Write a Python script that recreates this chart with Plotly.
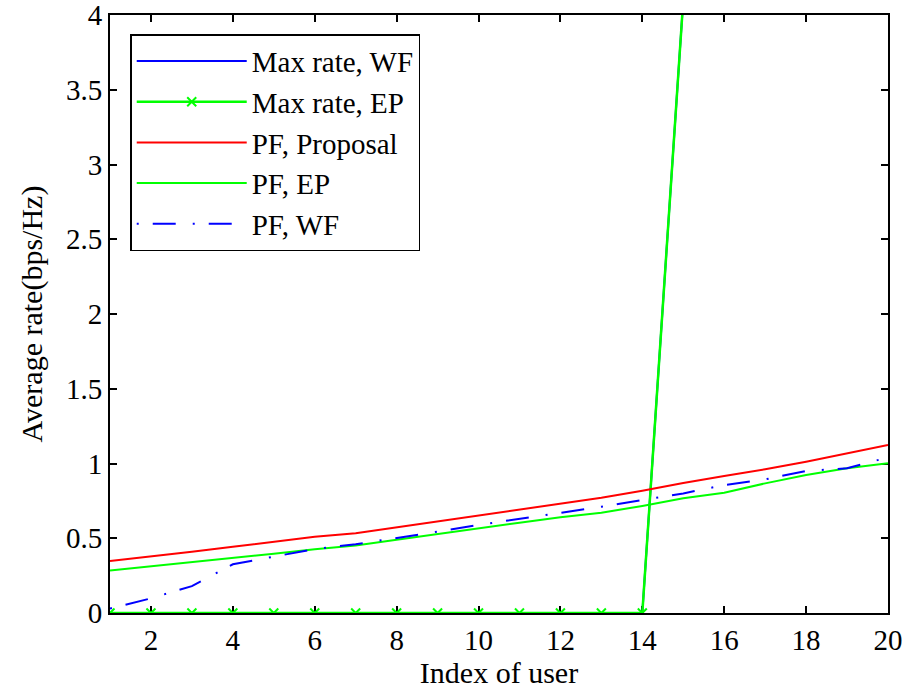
import plotly.graph_objects as go

users = list(range(1, 21))
max_rate_wf = [0, 0, 0, 0, 0, 0, 0, 0, 0, 0, 0, 0, 0, 0, 4.1, 5.0, 6.0, 7.0, 8.0, 9.0]
max_rate_ep = [0, 0, 0, 0, 0, 0, 0, 0, 0, 0, 0, 0, 0, 0, 4.1, 5.0, 6.0, 7.0, 8.0, 9.0]
pf_proposal = [0.348, 0.377, 0.41, 0.443, 0.477, 0.51, 0.533, 0.572, 0.61, 0.649, 0.689, 0.727, 0.771, 0.818, 0.87, 0.916, 0.961, 1.012, 1.068, 1.124]
pf_ep = [0.285, 0.312, 0.338, 0.366, 0.396, 0.426, 0.452, 0.49, 0.528, 0.571, 0.604, 0.64, 0.671, 0.716, 0.767, 0.805, 0.867, 0.923, 0.968, 1.001]
pf_wf = [0.03, 0.098, 0.18, 0.326, 0.377, 0.428, 0.46, 0.50, 0.544, 0.589, 0.629, 0.671, 0.711, 0.756, 0.80, 0.856, 0.894, 0.95, 0.968, 1.041]

x_ticks = [2, 4, 6, 8, 10, 12, 14, 16, 18, 20]
y_ticks = [0, 0.5, 1, 1.5, 2, 2.5, 3, 3.5, 4]
y_tick_labels = ["0", "0.5", "1", "1.5", "2", "2.5", "3", "3.5", "4"]

FONT = "Liberation Serif"

fig = go.Figure()
fig.add_trace(go.Scatter(x=users, y=max_rate_wf, mode="lines", name="Max rate, WF",
                         line=dict(color="#0000ff", width=2), cliponaxis=False))
fig.add_trace(go.Scatter(x=users, y=max_rate_ep, mode="lines+markers", name="Max rate, EP",
                         line=dict(color="#00ff00", width=2.5),
                         marker=dict(symbol="x-thin", size=9, color="#00ff00",
                                     line=dict(color="#00ff00", width=2))))
fig.add_trace(go.Scatter(x=users, y=pf_proposal, mode="lines", name="PF, Proposal",
                         line=dict(color="#ff0000", width=2)))
fig.add_trace(go.Scatter(x=users, y=pf_ep, mode="lines", name="PF, EP",
                         line=dict(color="#00ff00", width=2)))
fig.add_trace(go.Scatter(x=users, y=pf_wf, mode="lines", name="PF, WF",
                         line=dict(color="#0000ff", width=2, dash="2px,14px,23px,17px")))

axis_common = dict(showline=True, linecolor="black", linewidth=2, mirror="ticks",
                   ticks="inside", ticklen=7, tickwidth=2, tickcolor="black",
                   showgrid=False, zeroline=False, automargin=False,
                   ticklabeloverflow="allow", layer="below traces",
                   tickfont=dict(family=FONT, size=29, color="black"))

fig.update_xaxes(range=[1, 20], tickvals=x_ticks,
                 title=dict(text="Index of user", font=dict(family=FONT, size=30, color="black"), standoff=7),
                 **axis_common)
fig.update_yaxes(range=[0, 4], tickvals=y_ticks, ticktext=y_tick_labels,
                 title=dict(text="Average rate(bps/Hz)", font=dict(family=FONT, size=30, color="black"), standoff=14),
                 **axis_common)

fig.update_layout(
    width=904, height=691,
    margin=dict(l=110, r=16, t=15, b=78),
    plot_bgcolor="white", paper_bgcolor="white",
    font=dict(family=FONT, color="black"),
    legend=dict(x=0.026, y=0.968, xanchor="left", yanchor="top",
                bgcolor="white", bordercolor="black", borderwidth=1.5,
                font=dict(family=FONT, size=29, color="black"),
                itemwidth=110),
)

fig.write_html("out.html",
               config={"displayModeBar": False},
               post_script="document.body.style.margin='0';document.body.style.overflow='hidden';")
